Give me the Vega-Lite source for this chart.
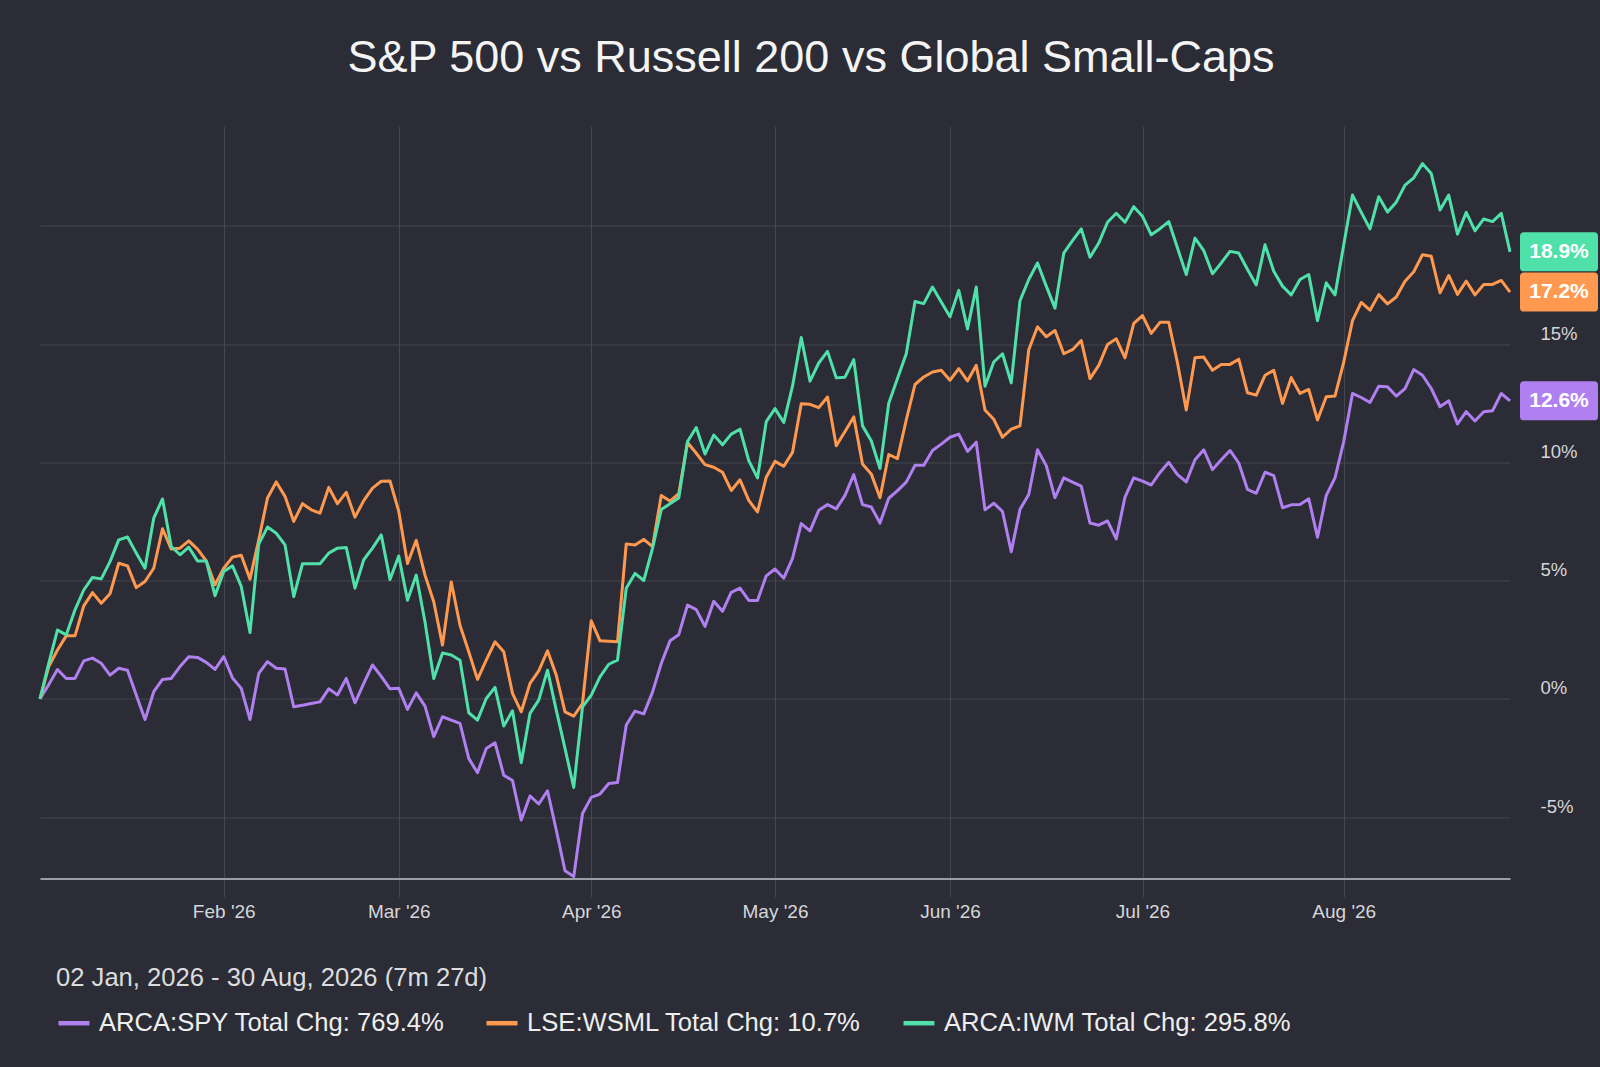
{
"$schema": "https://vega.github.io/schema/vega-lite/v6.json",
"width": 1470,
"height": 752,
"autosize": {"type": "none"},
"padding": {"left": 40, "top": 126.5, "right": 90, "bottom": 188.5},
"background": "#2b2c35",
"config": {"view": {"stroke": null}, "font": "Liberation Sans"},
"title": {"text": "S&P 500 vs Russell 200 vs Global Small-Caps", "fontSize": 45, "fontWeight": "normal", "color": "#f4f4f4", "anchor": "middle", "frame": "group", "offset": 10, "dx": 36, "baseline": "alphabetic", "font": "Liberation Sans"},
"datasets": {"px": [
{"d":"2026-01-02","SPY":0,"WSML":0,"IWM":0},
{"d":"2026-01-05","SPY":0.6,"WSML":1.36,"IWM":1.5},
{"d":"2026-01-06","SPY":1.24,"WSML":2.06,"IWM":2.91},
{"d":"2026-01-07","SPY":0.86,"WSML":2.66,"IWM":2.7},
{"d":"2026-01-08","SPY":0.86,"WSML":2.66,"IWM":3.76},
{"d":"2026-01-09","SPY":1.6,"WSML":3.93,"IWM":4.6},
{"d":"2026-01-12","SPY":1.72,"WSML":4.49,"IWM":5.13},
{"d":"2026-01-13","SPY":1.5,"WSML":4.04,"IWM":5.07},
{"d":"2026-01-14","SPY":1.0,"WSML":4.44,"IWM":5.8},
{"d":"2026-01-15","SPY":1.29,"WSML":5.73,"IWM":6.72},
{"d":"2026-01-16","SPY":1.21,"WSML":5.62,"IWM":6.84},
{"d":"2026-01-19","SPY":0.16,"WSML":4.7,"IWM":6.16},
{"d":"2026-01-20","SPY":-0.88,"WSML":4.96,"IWM":5.52},
{"d":"2026-01-21","SPY":0.3,"WSML":5.52,"IWM":7.64},
{"d":"2026-01-22","SPY":0.82,"WSML":7.19,"IWM":8.45},
{"d":"2026-01-23","SPY":0.86,"WSML":6.33,"IWM":6.44},
{"d":"2026-01-26","SPY":1.36,"WSML":6.37,"IWM":6.09},
{"d":"2026-01-27","SPY":1.78,"WSML":6.68,"IWM":6.41},
{"d":"2026-01-28","SPY":1.75,"WSML":6.33,"IWM":5.83},
{"d":"2026-01-29","SPY":1.54,"WSML":5.83,"IWM":5.83},
{"d":"2026-01-30","SPY":1.24,"WSML":4.82,"IWM":4.36},
{"d":"2026-02-02","SPY":1.78,"WSML":5.52,"IWM":5.38},
{"d":"2026-02-03","SPY":0.88,"WSML":5.99,"IWM":5.62},
{"d":"2026-02-04","SPY":0.44,"WSML":6.07,"IWM":4.75},
{"d":"2026-02-05","SPY":-0.88,"WSML":5.06,"IWM":2.8},
{"d":"2026-02-06","SPY":1.07,"WSML":6.72,"IWM":6.54},
{"d":"2026-02-09","SPY":1.57,"WSML":8.49,"IWM":7.26},
{"d":"2026-02-10","SPY":1.29,"WSML":9.17,"IWM":7.0},
{"d":"2026-02-11","SPY":1.26,"WSML":8.56,"IWM":6.51},
{"d":"2026-02-12","SPY":-0.34,"WSML":7.5,"IWM":4.32},
{"d":"2026-02-13","SPY":-0.27,"WSML":8.25,"IWM":5.71},
{"d":"2026-02-16","SPY":-0.2,"WSML":7.99,"IWM":5.71},
{"d":"2026-02-17","SPY":-0.13,"WSML":7.85,"IWM":5.71},
{"d":"2026-02-18","SPY":0.42,"WSML":8.94,"IWM":6.16},
{"d":"2026-02-19","SPY":0.16,"WSML":8.25,"IWM":6.37},
{"d":"2026-02-20","SPY":0.86,"WSML":8.73,"IWM":6.4},
{"d":"2026-02-23","SPY":-0.17,"WSML":7.68,"IWM":4.68},
{"d":"2026-02-24","SPY":0.65,"WSML":8.38,"IWM":5.88},
{"d":"2026-02-25","SPY":1.43,"WSML":8.91,"IWM":6.37},
{"d":"2026-02-26","SPY":0.95,"WSML":9.2,"IWM":6.93},
{"d":"2026-02-27","SPY":0.42,"WSML":9.21,"IWM":5.04},
{"d":"2026-03-02","SPY":0.44,"WSML":7.93,"IWM":6.04},
{"d":"2026-03-03","SPY":-0.45,"WSML":5.72,"IWM":4.17},
{"d":"2026-03-04","SPY":0.25,"WSML":6.7,"IWM":5.23},
{"d":"2026-03-05","SPY":-0.31,"WSML":5.23,"IWM":3.25},
{"d":"2026-03-06","SPY":-1.6,"WSML":4.1,"IWM":0.86},
{"d":"2026-03-09","SPY":-0.76,"WSML":2.27,"IWM":1.94},
{"d":"2026-03-10","SPY":-0.9,"WSML":4.94,"IWM":1.85},
{"d":"2026-03-11","SPY":-1.04,"WSML":3.11,"IWM":1.63},
{"d":"2026-03-12","SPY":-2.52,"WSML":1.99,"IWM":-0.59},
{"d":"2026-03-13","SPY":-3.13,"WSML":0.82,"IWM":-0.9},
{"d":"2026-03-16","SPY":-2.1,"WSML":1.63,"IWM":0.01},
{"d":"2026-03-17","SPY":-1.86,"WSML":2.41,"IWM":0.48},
{"d":"2026-03-18","SPY":-3.23,"WSML":1.99,"IWM":-1.15},
{"d":"2026-03-19","SPY":-3.46,"WSML":0.23,"IWM":-0.51},
{"d":"2026-03-20","SPY":-5.13,"WSML":-0.55,"IWM":-2.7},
{"d":"2026-03-23","SPY":-4.11,"WSML":0.65,"IWM":-0.62},
{"d":"2026-03-24","SPY":-4.45,"WSML":1.18,"IWM":-0.06},
{"d":"2026-03-25","SPY":-3.89,"WSML":2.03,"IWM":1.21},
{"d":"2026-03-26","SPY":-5.55,"WSML":1.0,"IWM":-0.48},
{"d":"2026-03-27","SPY":-7.27,"WSML":-0.55,"IWM":-2.1},
{"d":"2026-03-30","SPY":-7.52,"WSML":-0.73,"IWM":-3.75},
{"d":"2026-03-31","SPY":-4.85,"WSML":-0.2,"IWM":-0.34},
{"d":"2026-04-01","SPY":-4.17,"WSML":3.3,"IWM":0.15},
{"d":"2026-04-02","SPY":-4.03,"WSML":2.45,"IWM":0.93},
{"d":"2026-04-06","SPY":-3.58,"WSML":2.43,"IWM":1.46},
{"d":"2026-04-07","SPY":-3.54,"WSML":2.41,"IWM":1.63},
{"d":"2026-04-08","SPY":-1.11,"WSML":6.55,"IWM":4.67},
{"d":"2026-04-09","SPY":-0.52,"WSML":6.5,"IWM":5.3},
{"d":"2026-04-10","SPY":-0.64,"WSML":6.74,"IWM":5.0},
{"d":"2026-04-13","SPY":0.28,"WSML":6.43,"IWM":6.36},
{"d":"2026-04-14","SPY":1.49,"WSML":8.6,"IWM":8.0},
{"d":"2026-04-15","SPY":2.45,"WSML":8.36,"IWM":8.25},
{"d":"2026-04-16","SPY":2.71,"WSML":8.67,"IWM":8.49},
{"d":"2026-04-17","SPY":3.96,"WSML":10.84,"IWM":10.88},
{"d":"2026-04-20","SPY":3.77,"WSML":10.38,"IWM":11.47},
{"d":"2026-04-21","SPY":3.06,"WSML":9.9,"IWM":10.35},
{"d":"2026-04-22","SPY":4.12,"WSML":9.79,"IWM":11.15},
{"d":"2026-04-23","SPY":3.7,"WSML":9.58,"IWM":10.74},
{"d":"2026-04-24","SPY":4.5,"WSML":8.81,"IWM":11.19},
{"d":"2026-04-27","SPY":4.68,"WSML":9.26,"IWM":11.4},
{"d":"2026-04-28","SPY":4.16,"WSML":8.39,"IWM":10.07},
{"d":"2026-04-29","SPY":4.16,"WSML":7.9,"IWM":9.34},
{"d":"2026-04-30","SPY":5.2,"WSML":9.37,"IWM":11.72},
{"d":"2026-05-01","SPY":5.49,"WSML":10.04,"IWM":12.27},
{"d":"2026-05-04","SPY":5.1,"WSML":9.83,"IWM":11.68},
{"d":"2026-05-05","SPY":5.94,"WSML":10.42,"IWM":13.22},
{"d":"2026-05-06","SPY":7.41,"WSML":12.48,"IWM":15.28},
{"d":"2026-05-07","SPY":7.1,"WSML":12.45,"IWM":13.43},
{"d":"2026-05-08","SPY":7.97,"WSML":12.31,"IWM":14.2},
{"d":"2026-05-11","SPY":8.21,"WSML":12.76,"IWM":14.69},
{"d":"2026-05-12","SPY":8.03,"WSML":10.7,"IWM":13.57},
{"d":"2026-05-13","SPY":8.6,"WSML":11.3,"IWM":13.6},
{"d":"2026-05-14","SPY":9.48,"WSML":11.92,"IWM":14.34},
{"d":"2026-05-15","SPY":8.21,"WSML":9.93,"IWM":11.54},
{"d":"2026-05-18","SPY":8.11,"WSML":9.51,"IWM":10.91},
{"d":"2026-05-19","SPY":7.43,"WSML":8.5,"IWM":9.74},
{"d":"2026-05-20","SPY":8.48,"WSML":10.33,"IWM":12.5},
{"d":"2026-05-21","SPY":8.8,"WSML":10.16,"IWM":13.54},
{"d":"2026-05-22","SPY":9.16,"WSML":11.79,"IWM":14.59},
{"d":"2026-05-26","SPY":9.87,"WSML":13.29,"IWM":16.8},
{"d":"2026-05-27","SPY":9.87,"WSML":13.61,"IWM":16.71},
{"d":"2026-05-28","SPY":10.5,"WSML":13.82,"IWM":17.41},
{"d":"2026-05-29","SPY":10.77,"WSML":13.89,"IWM":16.78},
{"d":"2026-06-01","SPY":11.06,"WSML":13.47,"IWM":16.15},
{"d":"2026-06-02","SPY":11.19,"WSML":13.96,"IWM":17.27},
{"d":"2026-06-03","SPY":10.46,"WSML":13.44,"IWM":15.64},
{"d":"2026-06-04","SPY":10.85,"WSML":14.1,"IWM":17.41},
{"d":"2026-06-05","SPY":7.99,"WSML":12.21,"IWM":13.22},
{"d":"2026-06-08","SPY":8.27,"WSML":11.82,"IWM":14.24},
{"d":"2026-06-09","SPY":7.92,"WSML":11.06,"IWM":14.59},
{"d":"2026-06-10","SPY":6.22,"WSML":11.4,"IWM":13.36},
{"d":"2026-06-11","SPY":8.01,"WSML":11.54,"IWM":16.83},
{"d":"2026-06-12","SPY":8.64,"WSML":14.76,"IWM":17.73},
{"d":"2026-06-15","SPY":10.53,"WSML":15.73,"IWM":18.43},
{"d":"2026-06-16","SPY":9.86,"WSML":15.31,"IWM":17.45},
{"d":"2026-06-17","SPY":8.5,"WSML":15.57,"IWM":16.52},
{"d":"2026-06-18","SPY":9.34,"WSML":14.59,"IWM":18.85},
{"d":"2026-06-19","SPY":9.16,"WSML":14.76,"IWM":19.37},
{"d":"2026-06-22","SPY":8.99,"WSML":15.15,"IWM":19.87},
{"d":"2026-06-23","SPY":7.43,"WSML":13.54,"IWM":18.67},
{"d":"2026-06-24","SPY":7.34,"WSML":14.1,"IWM":19.27},
{"d":"2026-06-25","SPY":7.52,"WSML":14.98,"IWM":20.15},
{"d":"2026-06-26","SPY":6.76,"WSML":15.22,"IWM":20.53},
{"d":"2026-06-29","SPY":8.53,"WSML":14.42,"IWM":20.15},
{"d":"2026-06-30","SPY":9.34,"WSML":15.87,"IWM":20.81},
{"d":"2026-07-01","SPY":9.2,"WSML":16.2,"IWM":20.4},
{"d":"2026-07-02","SPY":9.04,"WSML":15.45,"IWM":19.62},
{"d":"2026-07-03","SPY":9.57,"WSML":15.92,"IWM":19.88},
{"d":"2026-07-06","SPY":10.0,"WSML":15.92,"IWM":20.18},
{"d":"2026-07-07","SPY":9.48,"WSML":14.2,"IWM":19.06},
{"d":"2026-07-08","SPY":9.17,"WSML":12.21,"IWM":17.94},
{"d":"2026-07-09","SPY":10.11,"WSML":14.42,"IWM":19.48},
{"d":"2026-07-10","SPY":10.53,"WSML":14.45,"IWM":18.95},
{"d":"2026-07-13","SPY":9.69,"WSML":13.89,"IWM":17.97},
{"d":"2026-07-14","SPY":10.11,"WSML":14.14,"IWM":18.43},
{"d":"2026-07-15","SPY":10.5,"WSML":14.14,"IWM":18.92},
{"d":"2026-07-16","SPY":9.97,"WSML":14.36,"IWM":18.85},
{"d":"2026-07-17","SPY":8.85,"WSML":12.94,"IWM":18.15},
{"d":"2026-07-20","SPY":8.69,"WSML":12.84,"IWM":17.5},
{"d":"2026-07-21","SPY":9.58,"WSML":13.68,"IWM":19.2},
{"d":"2026-07-22","SPY":9.44,"WSML":13.89,"IWM":18.08},
{"d":"2026-07-23","SPY":8.08,"WSML":12.49,"IWM":17.45},
{"d":"2026-07-24","SPY":8.2,"WSML":13.58,"IWM":17.08},
{"d":"2026-07-27","SPY":8.22,"WSML":12.91,"IWM":17.73},
{"d":"2026-07-28","SPY":8.46,"WSML":13.08,"IWM":17.94},
{"d":"2026-07-29","SPY":6.83,"WSML":11.79,"IWM":15.99},
{"d":"2026-07-30","SPY":8.6,"WSML":12.77,"IWM":17.59},
{"d":"2026-07-31","SPY":9.34,"WSML":12.8,"IWM":17.08},
{"d":"2026-08-03","SPY":10.88,"WSML":14.24,"IWM":19.2},
{"d":"2026-08-04","SPY":12.91,"WSML":15.99,"IWM":21.3},
{"d":"2026-08-05","SPY":12.74,"WSML":16.76,"IWM":20.57},
{"d":"2026-08-06","SPY":12.53,"WSML":16.43,"IWM":19.87},
{"d":"2026-08-07","SPY":13.22,"WSML":17.09,"IWM":21.23},
{"d":"2026-08-10","SPY":13.19,"WSML":16.7,"IWM":20.58},
{"d":"2026-08-11","SPY":12.8,"WSML":16.99,"IWM":21.0},
{"d":"2026-08-12","SPY":13.12,"WSML":17.66,"IWM":21.72},
{"d":"2026-08-13","SPY":13.92,"WSML":18.06,"IWM":22.03},
{"d":"2026-08-14","SPY":13.68,"WSML":18.78,"IWM":22.63},
{"d":"2026-08-17","SPY":13.12,"WSML":18.71,"IWM":22.21},
{"d":"2026-08-18","SPY":12.35,"WSML":17.17,"IWM":20.67},
{"d":"2026-08-19","SPY":12.6,"WSML":17.9,"IWM":21.3},
{"d":"2026-08-20","SPY":11.62,"WSML":17.1,"IWM":19.65},
{"d":"2026-08-21","SPY":12.14,"WSML":17.66,"IWM":20.57},
{"d":"2026-08-24","SPY":11.75,"WSML":17.08,"IWM":19.79},
{"d":"2026-08-25","SPY":12.14,"WSML":17.52,"IWM":20.29},
{"d":"2026-08-26","SPY":12.18,"WSML":17.52,"IWM":20.18},
{"d":"2026-08-27","SPY":12.91,"WSML":17.69,"IWM":20.53},
{"d":"2026-08-28","SPY":12.6,"WSML":17.2,"IWM":18.9}
]},
"data": {"name": "px"},
"transform": [{"fold": ["SPY", "WSML", "IWM"], "as": ["s", "v"]}],
"encoding": {
  "x": {"field": "d", "type": "ordinal", "scale": {"type": "point", "padding": 0},
    "axis": {"values": ["2026-02-02","2026-03-02","2026-04-01","2026-05-01","2026-06-01","2026-07-01","2026-08-03"],
      "labelExpr": "utcFormat(toDate(datum.value), \"%b '%y\")", "title": null, "grid": true, "gridColor": "#45464f", "gridWidth": 1,
      "ticks": true, "tickSize": 18, "tickColor": "#45464f", "tickWidth": 1, "domainColor": "#9d9da6", "domainWidth": 2,
      "labelFontSize": 19, "labelColor": "#d6d6da", "labelBaseline": "alphabetic", "labelPadding": 21, "labelAngle": 0, "labelFont": "Liberation Sans"}},
  "y": {"field": "v", "type": "quantitative", "scale": {"domain": [-7.6, 24.2], "nice": false, "zero": false},
    "axis": {"orient": "right", "values": [-5, 0, 5, 10, 15, 20], "labelExpr": "datum.value == 20 ? '' : datum.value + '%'", "title": null,
      "grid": true, "gridColor": "#45464f", "gridWidth": 1, "domain": false, "ticks": false, "tickSize": 0, "labelPadding": 30,
      "labelAlign": "left", "labelBaseline": "alphabetic", "labelOffset": -5, "labelFontSize": 18.5, "labelColor": "#d6d6da", "labelFont": "Liberation Sans"}}
},
"layer": [
  {"mark": {"type": "line", "strokeWidth": 3, "strokeJoin": "round"},
   "encoding": {"color": {"field": "s", "type": "nominal",
     "scale": {"domain": ["SPY", "WSML", "IWM"], "range": ["#b07ff0", "#ff994f", "#50e0aa"]},
     "legend": {"orient": "none", "legendX": 16, "legendY": 839.4, "direction": "horizontal", "padding": 0,
       "title": "02 Jan, 2026 - 30 Aug, 2026 (7m 27d)", "titleFontSize": 25.6, "titleFontWeight": "normal", "titleColor": "#dcdcdf",
       "titleAnchor": "start", "titleAlign": "left", "titlePadding": 13.5, "titleLimit": 1000, "titleFont": "Liberation Sans",
       "labelFontSize": 25.6, "labelColor": "#eeeeee", "labelLimit": 1000, "labelFont": "Liberation Sans",
       "labelExpr": "datum.label == 'SPY' ? 'ARCA:SPY Total Chg: 769.4%' : datum.label == 'WSML' ? 'LSE:WSML Total Chg: 10.7%' : 'ARCA:IWM Total Chg: 295.8%'",
       "symbolType": "stroke", "symbolSize": 961, "symbolStrokeWidth": 4.5, "labelOffset": 7, "columnPadding": 32}}}},
  {"transform": [{"filter": "datum.d == '2026-08-28'"}],
   "mark": {"type": "point", "filled": true, "opacity": 1, "size": 6084, "strokeWidth": 0, "xOffset": 49,
     "shape": "M-0.9,-0.5L0.9,-0.5Q1,-0.5,1,-0.4L1,0.4Q1,0.5,0.9,0.5L-0.9,0.5Q-1,0.5,-1,0.4L-1,-0.4Q-1,-0.5,-0.9,-0.5Z"},
   "encoding": {"fill": {"field": "s", "type": "nominal",
     "scale": {"domain": ["SPY", "WSML", "IWM"], "range": ["#b07ff0", "#ff994f", "#50e0aa"]}, "legend": null}}},
  {"transform": [{"filter": "datum.d == '2026-08-28'"}, {"calculate": "format(datum.v, '.1f') + '%'", "as": "lbl"}],
   "mark": {"type": "text", "xOffset": 49, "fontSize": 21, "fontWeight": "bold", "fill": "#ffffff", "align": "center", "baseline": "middle", "font": "Liberation Sans"},
   "encoding": {"text": {"field": "lbl", "type": "nominal"}}}
]
}
